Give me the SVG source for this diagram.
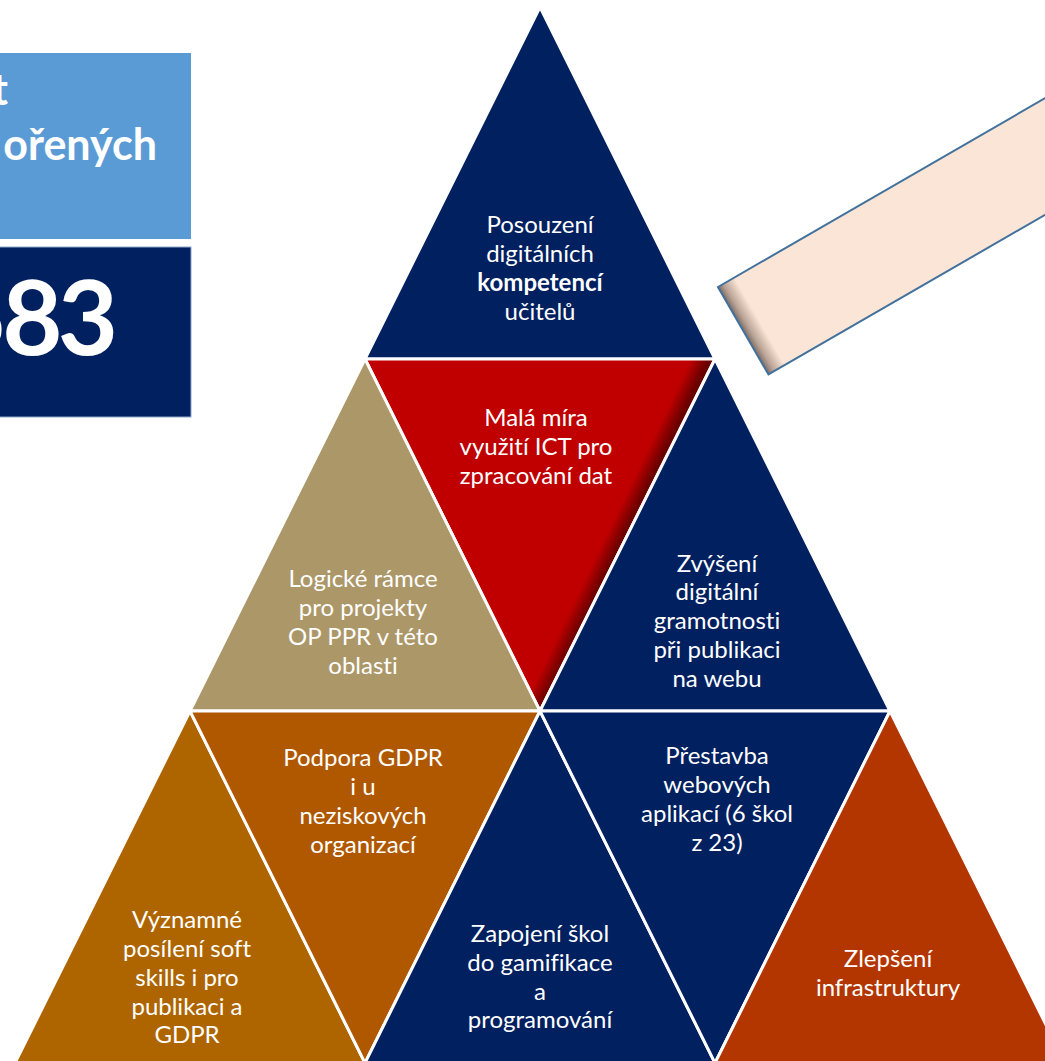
<svg xmlns="http://www.w3.org/2000/svg" width="1045" height="1061" viewBox="0 0 1045 1061">
<defs>
<style>
.tri{stroke:#FFFFFF;stroke-width:3;stroke-linejoin:miter}
.lbl{font-family:Lato,"Open Sans","Liberation Sans",sans-serif;font-size:24px;fill:#FFFFFF;text-anchor:middle;font-variant-ligatures:none}
.b{font-weight:bold}
.hd{font-family:Lato,"Open Sans","Liberation Sans",sans-serif;font-weight:bold;fill:#FFFFFF;font-variant-ligatures:none}
</style>
<linearGradient id="redShade" gradientUnits="userSpaceOnUse" x1="609" y1="529" x2="623.5" y2="536">
<stop offset="0" stop-color="#C00000"/>
<stop offset="1" stop-color="#6A0000"/>
</linearGradient>
<linearGradient id="pinkShade" gradientUnits="objectBoundingBox" x1="0" y1="0" x2="1" y2="0">
<stop offset="0" stop-color="#7E6C63"/>
<stop offset="0.015" stop-color="#B8A396"/>
<stop offset="0.045" stop-color="#FBE5D6"/>
<stop offset="1" stop-color="#FBE5D6"/>
</linearGradient>
</defs>

<g id="panel-label">
<rect x="-5" y="53" width="196" height="186" fill="#5B9BD5"/>
<text class="hd" x="-8" y="105" font-size="43">t</text>
<text class="hd" x="157" y="160" font-size="43" text-anchor="end">ořených</text>
</g>
<g id="panel-value">
<rect x="-5" y="247" width="196" height="170" fill="#002060" stroke="#8FA8CC" stroke-width="1"/>
<text class="hd" x="-53" y="355" font-size="104" letter-spacing="-5">583</text>
</g>

<g id="callout">
<rect x="0" y="0" width="420" height="101" transform="translate(718,287) rotate(-30)" fill="url(#pinkShade)" stroke="#41719C" stroke-width="2"/>
</g>

<g id="connectors"></g>

<g id="t-posouzeni">
<polygon class="tri" points="540,7 715,359 365,359" fill="#002060"/>
<text class="lbl" x="540"><tspan x="540" y="233">Posouzení</tspan><tspan x="540" y="262">digitálních</tspan><tspan x="540" y="291" class="b">kompetencí</tspan><tspan x="540" y="320">učitelů</tspan></text>
</g>

<g id="t-mala-mira">
<polygon class="tri" points="365,359 715,359 540,711" fill="url(#redShade)"/>
<text class="lbl"><tspan x="536" y="426">Malá míra</tspan><tspan x="536" y="455">využití ICT pro</tspan><tspan x="536" y="484">zpracování dat</tspan></text>
</g>

<g id="t-logicke">
<polygon class="tri" points="365,359 540,711 190,711" fill="#AC9769"/>
<text class="lbl"><tspan x="363" y="587">Logické rámce</tspan><tspan x="363" y="616">pro projekty</tspan><tspan x="363" y="645">OP PPR v této</tspan><tspan x="363" y="674">oblasti</tspan></text>
</g>

<g id="t-zvyseni">
<polygon class="tri" points="715,359 890,711 540,711" fill="#002060"/>
<text class="lbl"><tspan x="717" y="572">Zvýšení</tspan><tspan x="717" y="600">digitální</tspan><tspan x="717" y="629">gramotnosti</tspan><tspan x="717" y="658">při publikaci</tspan><tspan x="717" y="687">na webu</tspan></text>
</g>

<g id="t-vyznamne">
<polygon class="tri" points="190,711 365,1063 15,1063" fill="#AE6500"/>
<text class="lbl"><tspan x="187" y="928">Významné</tspan><tspan x="187" y="957">posílení soft</tspan><tspan x="187" y="986">skills i pro</tspan><tspan x="187" y="1015">publikaci a</tspan><tspan x="187" y="1043">GDPR</tspan></text>
</g>

<g id="t-podpora">
<polygon class="tri" points="190,711 540,711 365,1063" fill="#B05800"/>
<text class="lbl"><tspan x="363" y="766">Podpora GDPR</tspan><tspan x="363" y="795">i u</tspan><tspan x="363" y="824">neziskových</tspan><tspan x="363" y="853">organizací</tspan></text>
</g>

<g id="t-zapojeni">
<polygon class="tri" points="540,711 715,1063 365,1063" fill="#002060"/>
<text class="lbl"><tspan x="540" y="942">Zapojení škol</tspan><tspan x="540" y="971">do gamifikace</tspan><tspan x="540" y="1000">a</tspan><tspan x="540" y="1028">programování</tspan></text>
</g>

<g id="t-prestavba">
<polygon class="tri" points="540,711 890,711 715,1063" fill="#002060"/>
<text class="lbl"><tspan x="717" y="764">Přestavba</tspan><tspan x="717" y="793">webových</tspan><tspan x="717" y="822">aplikací (6 škol</tspan><tspan x="717" y="851">z 23)</tspan></text>
</g>

<g id="t-zlepseni">
<polygon class="tri" points="890,711 1065,1063 715,1063" fill="#B33600"/>
<text class="lbl"><tspan x="888" y="967">Zlepšení</tspan><tspan x="888" y="996">infrastruktury</tspan></text>
</g>
</svg>
